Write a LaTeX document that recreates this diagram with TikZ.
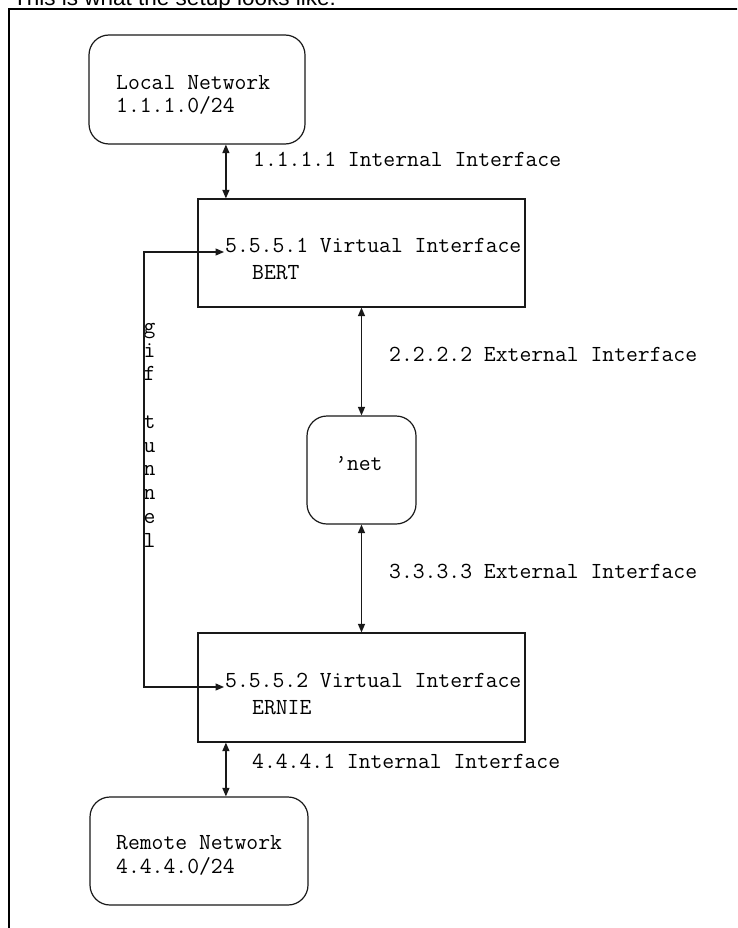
\documentclass[tikz,border=0pt]{standalone}
\usepackage{fontspec}
\newfontfamily\hdrfont{Liberation Sans}
\usetikzlibrary{arrows.meta}
\newcommand\mymono{\ttfamily\fontsize{23pt}{23.8pt}\selectfont}
\tikzset{
  ln/.style={line width=1.2pt, draw=black!90},
  sqbox/.style={ln, draw, inner sep=0pt, minimum width=#1},
  rbox/.style={ln, draw, inner sep=0pt, rounded corners=20pt, minimum width=#1},
  lbl/.style={font=\mymono, inner sep=0pt, anchor=base west},
  dbl/.style={ln, {Triangle[length=8.5pt,width=7pt]}-{Triangle[length=8.5pt,width=7pt]}},
}
\begin{document}
\begin{tikzpicture}[x=1pt,y=-1pt]
\clip (0,0) rectangle (737,928);
\fill[white] (0,0) rectangle (737,928);
% header and frame
\node[anchor=base west, inner sep=0pt, font=\hdrfont\fontsize{22.5pt}{27pt}\selectfont] (hdr) at (13,6) {This is what the setup looks like:};
\draw[line width=2pt] (9,930) -- (9,9.5) -- (740,9.5);
% boxes
\node[rbox=216pt, minimum height=109pt] (local) at (197,89.5) {};
\node[sqbox=327pt, minimum height=108pt] (bert) at (361.5,253) {};
\node[rbox=109pt, minimum height=108pt] (net) at (361.5,470) {};
\node[sqbox=327pt, minimum height=109pt] (ernie) at (361.5,687.5) {};
\node[rbox=218pt, minimum height=108pt] (remote) at (199,851) {};
% texts
\node[lbl] (ln1) at (116,89.5) {Local Network};
\node[lbl] (ln2) at (116,113) {1.1.1.0/24};
\node[lbl] (l1) at (253,167) {1.1.1.1 Internal Interface};
\node[lbl] (v1) at (225,252) {5.5.5.1 Virtual Interface};
\node[lbl] (bertname) at (252,279) {BERT};
\node[lbl] (l2) at (389,361) {2.2.2.2 External Interface};
\node[lbl] (netname) at (335,470) {’net};
\node[lbl] (l3) at (389,578) {3.3.3.3 External Interface};
\node[lbl] (v2) at (225,687) {5.5.5.2 Virtual Interface};
\node[lbl] (erniename) at (252,714) {ERNIE};
\node[lbl] (l4) at (252,768) {4.4.4.1 Internal Interface};
\node[lbl] (rn1) at (116,849) {Remote Network};
\node[lbl] (rn2) at (116,873) {4.4.4.0/24};
\foreach \ch/\yy in {g/333,i/357,f/380,t/428,u/452,n/475,n/499,e/523,l/547}
  \node[lbl] (tun\yy) at (143.5,\yy) {\ch};
% connectors
\coordinate (a1) at ([xshift=28.5pt]bert.north west);
\draw[dbl] (a1 |- local.south) -- (a1);
\draw[dbl] (bert.south) -- (net.north);
\draw[dbl] (net.south) -- (ernie.north);
\coordinate (a4) at ([xshift=28.5pt]ernie.south west);
\draw[dbl] (a4) -- (a4 |- remote.north);
\coordinate (tc) at (144,0);
\draw[dbl] ([xshift=-1pt]v1.base west) -- (tc |- v1.base west) -- (tc |- v2.base west) -- ([xshift=-1pt]v2.base west);
\end{tikzpicture}
\end{document}
